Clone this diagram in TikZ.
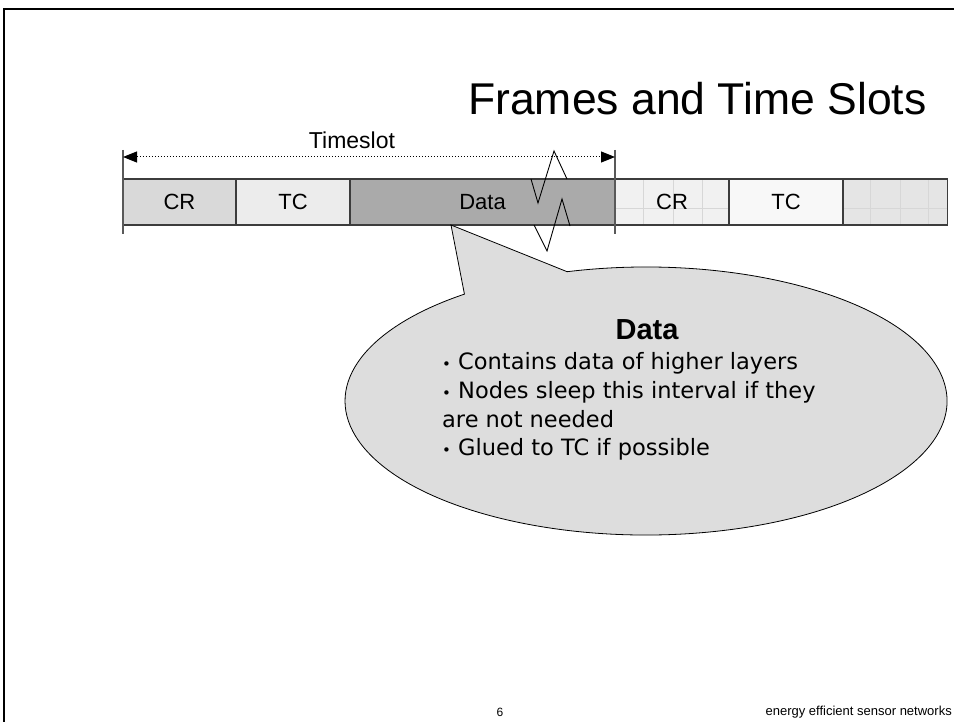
\documentclass[tikz,border=0pt]{standalone}
\usepackage{fontspec}
\setmainfont{Liberation Sans}
\newfontfamily\bubblefont{DejaVu Sans}
\usetikzlibrary{arrows.meta}
\definecolor{boxline}{RGB}{60,60,60}
\definecolor{crgray}{RGB}{217,217,217}
\definecolor{tcgray}{RGB}{236,236,236}
\definecolor{datagray}{RGB}{170,170,170}
\definecolor{crlight}{RGB}{241,241,241}
\definecolor{tclight}{RGB}{248,248,248}
\definecolor{nextgray}{RGB}{229,229,229}
\definecolor{texline}{RGB}{215,215,215}
\definecolor{bubblegray}{RGB}{221,221,221}

\begin{document}
\begin{tikzpicture}[
  x=1pt, y=-1pt,
  slot/.style={draw=boxline,line width=1.1pt,minimum height=46pt,inner sep=0pt,font=\fontsize{22}{26}\selectfont},
  bline/.style={anchor=base west,inner sep=0pt,font=\bubblefont\fontsize{22.5}{26}\selectfont},
  tick/.style={draw=gray!70!black,line width=1.1pt},
  zig/.style={draw=black,line width=0.9pt,line join=miter}
]
  \useasboundingbox (0,0) rectangle (954,722);
  % slide frame
  \draw[line width=2pt] (4,722) -- (4,9) -- (960,9);
  \node[anchor=base west,inner sep=0pt,font=\fontsize{44.5}{50}\selectfont] (title) at (468,115) {Frames and Time Slots};
  % the slots
  \node[slot,fill=crgray,minimum width=113pt] (cr1) at (179.5,202) {CR};
  \node[slot,fill=tcgray,minimum width=114pt] (tc1) at (293,202) {TC};
  \node[slot,fill=datagray,minimum width=265pt] (data) at (482.5,202) {Data};
  \node[slot,fill=crlight,minimum width=114pt] (cr2) at (672,202) {};
  \node[slot,fill=tclight,minimum width=114pt] (tc2) at (786,202) {};
  \node[slot,fill=nextgray,minimum width=105pt] (nxt) at (895,202) {};
  % faint texture
  \foreach \gx in {643,673,702,870,900,928}
    \draw[texline,line width=0.6pt] (\gx,180) -- (\gx,224);
  \draw[texline,line width=0.6pt] (616,208) -- (728,208);
  \draw[texline,line width=0.6pt] (843,208) -- (947,208);
  \node[slot,minimum width=114pt] at (cr2) {CR};
  \node[slot,minimum width=114pt] at (tc2) {TC};
  \node[slot,minimum width=105pt] at (nxt) {};
  % timeslot span
  \coordinate (tl) at (123,157);
  \coordinate (tr) at (615,157);
  \draw[tick] (123,150) -- (123,234);
  \draw[tick] (615,150) -- (615,234);
  \draw[dotted,line width=1pt,{Triangle[length=14pt,width=11pt]}-{Triangle[length=14pt,width=11pt]}] (tl) -- (tr);
  \node[anchor=base,inner sep=0pt,font=\fontsize{23}{27}\selectfont] (ts) at (352,149) {Timeslot};
  % break marks
  \draw[zig] (531,179) -- (538,203) -- (554,151) -- (567,179);
  \draw[zig] (534,225) -- (547,251) -- (562,199) -- (570,226);
  % callout
  \filldraw[fill=bubblegray,draw=black,line width=0.8pt]
    (567.1,271.7) arc[start angle=254.8,end angle=592.9,x radius=301,y radius=134]
    -- (451,225) -- cycle;
  \node[anchor=base,inner sep=0pt,font=\bfseries\fontsize{29}{34}\selectfont] (head) at (647,340) {Data};
  \node[bline] (l1) at (442,370) {{\fontsize{15}{15}\selectfont•} Contains data of higher layers};
  \node[bline] (l2) at (442,398) {{\fontsize{15}{15}\selectfont•} Nodes sleep this interval if they};
  \node[bline] (l3) at (442,427) {are not needed};
  \node[bline] (l4) at (442,455) {{\fontsize{15}{15}\selectfont•} Glued to TC if possible};
  % footer
  \node[anchor=base,inner sep=0pt,font=\fontsize{12}{14}\selectfont] (pg) at (500,716) {6};
  \node[anchor=base east,inner sep=0pt,font=\fontsize{13}{15}\selectfont] (ft) at (952,715) {energy efficient sensor networks};
\end{tikzpicture}
\end{document}
